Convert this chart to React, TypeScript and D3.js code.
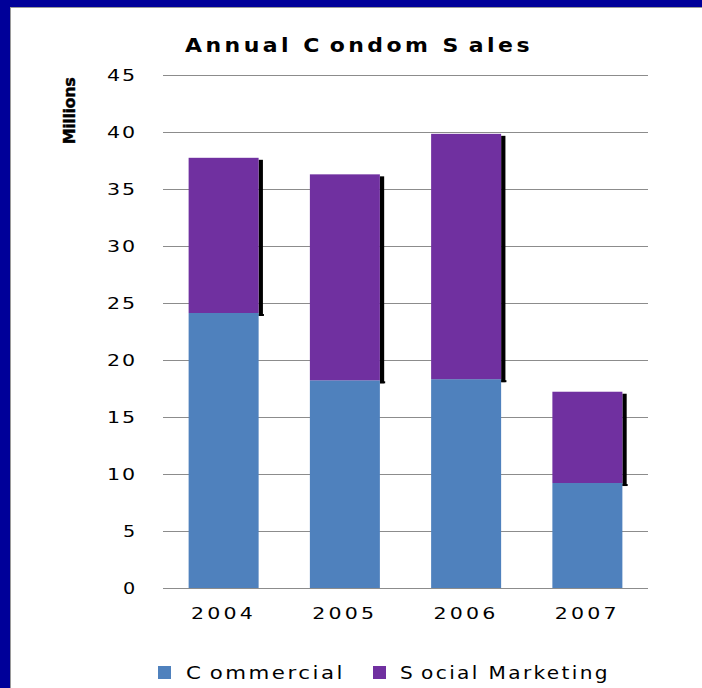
import React from "react";
import * as d3 from "d3";

const years = ["2004", "2005", "2006", "2007"];
const commercial = [24.1, 18.2, 18.3, 9.2];
const socialMarketing = [13.6, 18.05, 21.5, 8.0];
const yTicks = [0, 5, 10, 15, 20, 25, 30, 35, 40, 45];
const seriesNames = ["Commercial", "Social Marketing"];
const seriesColors = ["#4F81BD", "#7030A0"];

const W = 702;
const H = 688;
const FONT = "'DejaVu Sans', Verdana, sans-serif";

export default function App() {
  const x = d3
    .scaleBand<string>()
    .domain(years)
    .range([163, 648])
    .paddingInner(0.4227)
    .paddingOuter(0.2113);
  const y = d3.scaleLinear().domain([0, 45]).range([588, 74.5]);

  const stack = d3
    .stack<{ year: string; c: number; s: number }>()
    .keys(["c", "s"]);
  const rows = years.map((yr, i) => ({ year: yr, c: commercial[i], s: socialMarketing[i] }));
  const series = stack(rows as any);

  return (
    <svg
      width={W}
      height={H}
      style={{ position: "absolute", left: 0, top: 0, display: "block" }}
      fontFamily={FONT}
    >
      <rect x={0} y={0} width={W} height={H} fill="#000099" />
      <rect x={10} y={7} width={W - 10} height={H - 7} fill="#ffffff" />
      <line x1={10.5} x2={10.5} y1={7} y2={H} stroke="#9a9a9a" />
      <line x1={10} x2={W} y1={7.5} y2={7.5} stroke="#9a9a9a" />

      {/* title */}
      <text x={185} y={52} fontSize={19} fontWeight="bold" fill="#000" letterSpacing={3} textLength={348} lengthAdjust="spacingAndGlyphs">
        Annual C<tspan dx={6}>ondom S</tspan><tspan dx={6}>ales</tspan>
      </text>

      {/* y axis label */}
      <text
        transform={`translate(75,111) rotate(-90)`}
        textAnchor="middle"
        fontSize={16}
        fontWeight="bold"
        fill="#000"
        stroke="#000"
        strokeWidth={0.4}
        letterSpacing={-0.4}
      >
        Millions
      </text>

      {/* gridlines */}
      {yTicks.map((t) => (
        <line
          key={t}
          x1={163}
          x2={648}
          y1={Math.round(y(t)) + 0.5}
          y2={Math.round(y(t)) + 0.5}
          stroke="#8c8c8c"
          strokeWidth={1}
        />
      ))}

      {/* tick labels */}
      {yTicks.map((t) => (
        <text
          key={t}
          x={137}
          y={y(t) + 6}
          textAnchor="end"
          fontSize={16}
          fill="#000"
          letterSpacing={1.5}
          textLength={String(t).length > 1 ? 30 : 14}
          lengthAdjust="spacingAndGlyphs"
        >
          {t}
        </text>
      ))}

      {/* shadows */}
      {years.map((yr, i) => {
        const right = (x(yr) as number) + x.bandwidth();
        const top = y(series[1][i][1]);
        const bnd = y(series[1][i][0]);
        return (
          <g key={"sh" + yr}>
            <rect x={right} y={top + 2} width={4.3} height={bnd - top + 1} fill="#000" />
            <rect x={right} y={bnd + 1} width={5.3} height={2} fill="#000" />
          </g>
        );
      })}

      {/* bars */}
      {series.map((s, si) =>
        s.map((d, i) => (
          <rect
            key={si + "-" + i}
            x={x(years[i])}
            y={y(d[1])}
            width={x.bandwidth()}
            height={y(d[0]) - y(d[1])}
            fill={seriesColors[si]}
          />
        ))
      )}

      {/* x labels */}
      {years.map((yr) => (
        <text
          key={yr}
          x={(x(yr) as number) + x.bandwidth() / 2}
          y={619}
          textAnchor="middle"
          fontSize={16}
          fill="#000"
          letterSpacing={2.5}
          textLength={65}
          lengthAdjust="spacingAndGlyphs"
        >
          {yr}
        </text>
      ))}

      {/* legend */}
      <rect x={158} y={666} width={13} height={13} fill={seriesColors[0]} />
      <text x={186} y={679} fontSize={17} fill="#000" letterSpacing={2} textLength={159} lengthAdjust="spacingAndGlyphs">
        {seriesNames[0].slice(0, 1)}
        <tspan dx={5}>{seriesNames[0].slice(1)}</tspan>
      </text>
      <rect x={373} y={666} width={13} height={13} fill={seriesColors[1]} />
      <text x={400} y={679} fontSize={17} fill="#000" letterSpacing={2} textLength={210} lengthAdjust="spacingAndGlyphs">
        {seriesNames[1].slice(0, 1)}
        <tspan dx={5}>{seriesNames[1].slice(1)}</tspan>
      </text>
    </svg>
  );
}
